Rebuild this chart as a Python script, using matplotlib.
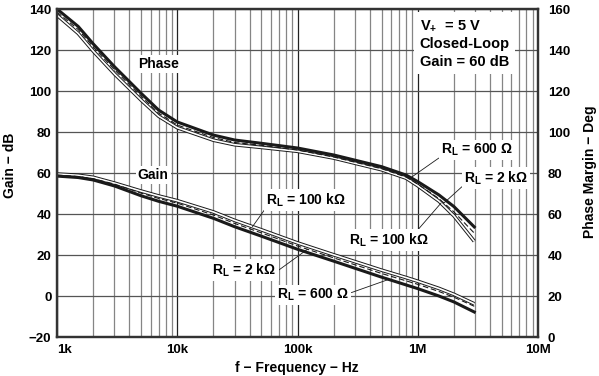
import numpy as np
import matplotlib
matplotlib.use('Agg')
import matplotlib.pyplot as plt
from matplotlib.ticker import FixedLocator, FixedFormatter, NullFormatter, LogLocator

plt.rcParams['font.family'] = ['Liberation Sans', 'DejaVu Sans']
plt.rcParams['font.weight'] = 'bold'
plt.rcParams['mathtext.fontset'] = 'custom'
plt.rcParams['mathtext.rm'] = 'Liberation Sans:bold'
plt.rcParams['mathtext.it'] = 'Liberation Sans:bold'
plt.rcParams['mathtext.bf'] = 'Liberation Sans:bold'

# frequency points (Hz)
freq = [1e3, 1.5e3, 2e3, 3e3, 5e3, 7e3, 1e4, 2e4, 3e4, 5e4, 1e5, 2e5, 5e5, 8e5, 1e6, 1.5e6, 2e6, 2.95e6]

# gain (dB)
gain_600 = [58.5, 57.8, 56.6, 53.7, 48.9, 46.2, 43.8, 37.9, 33.8, 29.2, 22.8, 17.0, 9.2, 5.4, 3.6, 0.0, -2.9, -7.8]
gain_2k = [59.0, 58.3, 57.2, 54.6, 50.2, 47.6, 45.3, 39.5, 35.4, 30.8, 24.4, 18.6, 11.0, 7.4, 5.7, 2.2, -0.6, -5.0]
gain_100k = [59.5, 58.9, 57.9, 55.1, 51.2, 48.8, 46.5, 41.0, 36.9, 32.3, 25.9, 20.1, 12.6, 9.0, 7.2, 3.7, 0.8, -3.8]

# phase margin (deg)
phase_600 = [160, 151.5, 143.0, 131.9, 118.9, 110.7, 104.9, 98.5, 96.1, 94.5, 92.2, 88.8, 83.1, 79.0, 75.8, 69.3, 63.6, 53.7]
phase_2k = [158.5, 150.0, 141.5, 130.4, 117.4, 109.2, 103.4, 97.3, 94.9, 93.5, 91.2, 87.8, 82.1, 78.0, 74.6, 67.5, 61.0, 50.7]
phase_100k = [157.0, 148.1, 139.5, 128.4, 115.6, 107.7, 102.1, 96.0, 93.8, 92.5, 90.6, 87.3, 81.6, 77.5, 73.8, 66.3, 59.1, 46.7]

xticks = [1e3, 1e4, 1e5, 1e6, 1e7]
xtick_labels = ['1k', '10k', '100k', '1M', '10M']
gain_ticks = [-20, 0, 20, 40, 60, 80, 100, 120, 140]
phase_ticks = [0, 20, 40, 60, 80, 100, 120, 140, 160]

FS = 9.5
LFS = 10
INK = '#1a1a1a'

fig = plt.figure(figsize=(5.99, 3.76), dpi=100)
ax = fig.add_axes([0.0952, 0.1037, 0.8030, 0.8723])
ax.set_xscale('log')
ax.set_xlim(1e3, 1e7)
ax.set_ylim(-20, 140)
ax.xaxis.set_major_locator(FixedLocator(xticks))
ax.xaxis.set_major_formatter(FixedFormatter(xtick_labels))
ax.xaxis.set_minor_locator(LogLocator(base=10, subs=np.arange(2, 10)))
ax.xaxis.set_minor_formatter(NullFormatter())
ax.set_yticks(gain_ticks)
ax.grid(which='major', axis='x', color='#222222', lw=0.9)
ax.grid(which='minor', axis='x', color='#858585', lw=0.9)
ax.grid(which='major', axis='y', color='#555555', lw=0.9)
ax.tick_params(which='both', length=0)
ax.tick_params(axis='x', pad=5, labelsize=FS)
ax.tick_params(axis='y', pad=4, labelsize=FS)
ax.get_xticklabels()[0].set_ha('left')

ax2 = ax.twinx()
ax2.set_ylim(0, 160)
ax2.set_yticks(phase_ticks)
ax2.tick_params(length=0, pad=7, labelsize=FS)

for a in (ax, ax2):
    for s in a.spines.values():
        s.set_color('#333333')
        s.set_linewidth(1.6)

# gain curves
ax.plot(freq, gain_100k, color=INK, lw=2.6, solid_capstyle='butt')
ax.plot(freq, gain_100k, color='white', lw=1.2, solid_capstyle='butt')
ax.plot(freq, gain_2k, color=INK, lw=0.8, ls=(0, (5, 2.5)))
ax.plot(freq, gain_600, color=INK, lw=2.2)

# phase curves
ax2.plot(freq, phase_100k, color=INK, lw=2.6, solid_capstyle='butt')
ax2.plot(freq, phase_100k, color='white', lw=1.2, solid_capstyle='butt')
ax2.plot(freq, phase_2k, color=INK, lw=0.8, ls=(0, (5, 2.5)))
ax2.plot(freq, phase_600, color=INK, lw=2.2)

box = dict(facecolor='white', edgecolor='none', pad=1.5)
lead = dict(arrowstyle='-', color=INK, lw=0.6, shrinkA=0, shrinkB=0)

ax.text(6.95e3, 113.2, 'Phase', ha='center', va='center', fontsize=LFS, bbox=box)
ax.text(6.31e3, 59.0, 'Gain', ha='center', va='center', fontsize=LFS, bbox=box)
ax.text(1.04e6, 123.2, 'V$_\\mathrm{+}$  = 5 V\nClosed-Loop\nGain = 60 dB', ha='left', va='center',
        fontsize=10.5, linespacing=1.35, bbox=dict(facecolor='white', edgecolor='none', pad=4))


def leader(a, text, xt, yt, f_target, curve, ha, rel):
    yv = np.interp(np.log10(f_target), np.log10(freq), curve)
    a.annotate(text, xy=(f_target, yv), xytext=(xt, yt), ha=ha, va='center', fontsize=LFS,
               bbox=box, arrowprops=dict(lead, relpos=rel))


# phase labels
leader(ax2, 'R$_\\mathrm{L}$ = 600 Ω', 1.556e6, 91.2, 8.75e5, phase_600, 'left', (0.0, 0.1))
leader(ax2, 'R$_\\mathrm{L}$ = 2 kΩ', 2.42e6, 77.6, 1.65e6, phase_2k, 'left', (0.0, 0.1))
leader(ax2, 'R$_\\mathrm{L}$ = 100 kΩ', 5.73e5, 47.3, 1.56e6, phase_100k, 'center', (0.85, 1.0))

# gain labels
leader(ax, 'R$_\\mathrm{L}$ = 100 kΩ', 5.52e4, 46.8, 4.22e4, gain_100k, 'left', (0.0, 0.1))
leader(ax, 'R$_\\mathrm{L}$ = 2 kΩ', 1.96e4, 12.7, 1.21e5, gain_2k, 'left', (1.0, 0.4))
leader(ax, 'R$_\\mathrm{L}$ = 600 Ω', 6.81e4, 0.5, 5.73e5, gain_600, 'left', (1.0, 0.6))

fig.text(297 / 599, 1 - 368 / 376, 'f − Frequency − Hz', ha='center', va='center', fontsize=FS + 0.5)
fig.text(10 / 599, 1 - 165 / 376, 'Gain − dB', ha='center', va='center', rotation=90, fontsize=FS + 0.5)
fig.text(590 / 599, 1 - 172 / 376, 'Phase Margin − Deg', ha='center', va='center', rotation=90, fontsize=FS + 0.5)

fig.savefig('out.png', dpi=100)
